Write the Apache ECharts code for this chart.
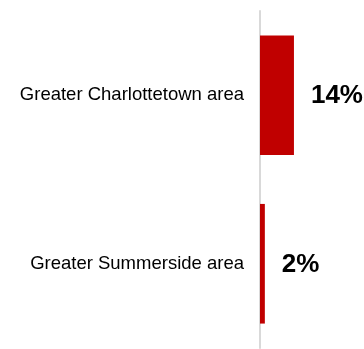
<!DOCTYPE html>
<html>
<head>
<meta charset="utf-8">
<script src="https://cdn.jsdelivr.net/npm/echarts@6/dist/echarts.min.js"></script>
<style>
  html, body { margin: 0; padding: 0; background: #ffffff; }
  #chart { width: 364px; height: 349px; }
</style>
</head>
<body>
<div id="chart"></div>
<script>
// Share of respondents by area
const areas = ['Greater Charlottetown area', 'Greater Summerside area'];
const shares = [14, 2];

const chart = echarts.init(document.getElementById('chart'), null, { renderer: 'canvas' });

chart.setOption({
  animation: false,
  backgroundColor: '#ffffff',
  grid: { left: 260, right: 7, top: 11, bottom: 1, containLabel: false },
  xAxis: {
    type: 'value',
    min: 0,
    max: 40,
    show: false
  },
  yAxis: {
    type: 'category',
    data: areas,
    inverse: true,
    axisLine: { show: true, lineStyle: { color: '#d9d9d9', width: 2 } },
    axisTick: { show: false },
    axisLabel: {
      margin: 16,
      color: '#000000',
      fontFamily: 'Liberation Sans, Arial, sans-serif',
      fontSize: 18.5
    }
  },
  series: [{
    type: 'bar',
    data: shares,
    barWidth: '71%',
    itemStyle: { color: '#c00000' },
    label: {
      show: true,
      position: 'right',
      distance: 17,
      offset: [0, 1],
      formatter: p => p.value + '%',
      color: '#000000',
      fontFamily: 'Liberation Sans, Arial, sans-serif',
      fontWeight: 'bold',
      fontSize: 26
    }
  }]
});
</script>
</body>
</html>
